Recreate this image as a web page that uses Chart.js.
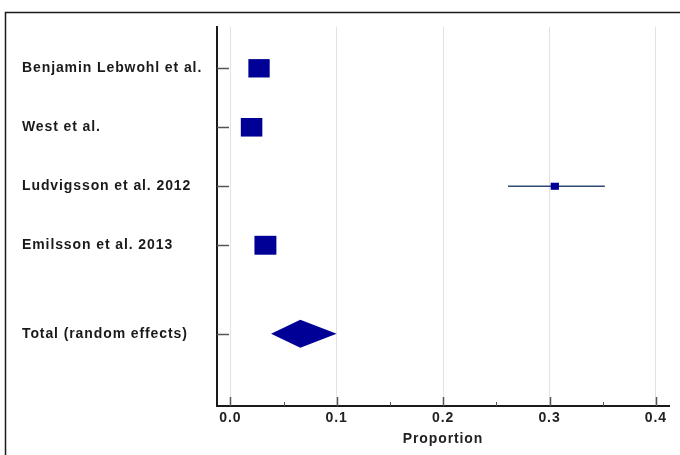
<!DOCTYPE html>
<html>
<head>
<meta charset="utf-8">
<script src="https://cdn.jsdelivr.net/npm/chart.js@4/dist/chart.umd.min.js"></script>
<style>
  html, body { margin: 0; padding: 0; background: #ffffff; }
  canvas { display: block; }
</style>
</head>
<body>
<canvas id="forest" width="680" height="455"></canvas>
<script>
// Individual studies: proportion with 95% CI and random-effects weight (%)
const studies   = ['Benjamin Lebwohl et al.', 'West et al.', 'Ludvigsson et al. 2012', 'Emilsson et al. 2013'];
const estimates = [0.027, 0.020, 0.305, 0.033];
const lowerCI   = [0.024, 0.017, 0.261, 0.029];
const upperCI   = [0.031, 0.023, 0.352, 0.037];
const weights   = [31.0, 31.6, 4.6, 32.8];
const studyRows = [0, 1, 2, 3];

// Pooled estimate
const pooledLabel    = 'Total (random effects)';
const pooledEstimate = 0.0658;
const pooledLower    = 0.0383;
const pooledUpper    = 0.0999;
const pooledRow      = 4.5;

// Axis ticks
const xTicks      = [0.0, 0.1, 0.2, 0.3, 0.4];
const xMinorTicks = [0.05, 0.15, 0.25, 0.35];

const rowLabels = {};
studyRows.forEach((r, i) => { rowLabels[r] = studies[i]; });
rowLabels[pooledRow] = pooledLabel;

const FONT = { family: '"Liberation Sans", Arial, sans-serif', size: 14, weight: 'bold' };
const BOX_COLOR = '#000096';
const CI_COLOR = '#2f4a72';

const forestPlugin = {
  id: 'forestPlot',
  beforeDraw(chart) {
    const ctx = chart.ctx;
    ctx.save();
    ctx.fillStyle = '#ffffff';
    ctx.fillRect(0, 0, chart.width, chart.height);
    ctx.strokeStyle = '#1a1a1a';
    ctx.lineWidth = 1.5;
    ctx.strokeRect(5.5, 12.5, chart.width + 20, chart.height + 20);
    ctx.restore();
    // slightly wider lettering for all axis text
    ctx.letterSpacing = '0.9px';
  },
  afterDatasetsDraw(chart) {
    const ctx = chart.ctx;
    const xs = chart.scales.x, ys = chart.scales.y;
    const area = chart.chartArea;
    ctx.save();

    // inward tick marks on the y axis
    ctx.strokeStyle = '#555';
    ctx.lineWidth = 1.5;
    [...studyRows, pooledRow].forEach(r => {
      const y = Math.round(ys.getPixelForValue(r)) + 0.5;
      ctx.beginPath();
      ctx.moveTo(area.left, y);
      ctx.lineTo(area.left + 12, y);
      ctx.stroke();
    });
    // inward tick marks on the x axis
    xTicks.forEach(v => {
      const x = Math.round(xs.getPixelForValue(v)) + 0.5;
      ctx.beginPath();
      ctx.moveTo(x, area.bottom);
      ctx.lineTo(x, area.bottom - 9);
      ctx.stroke();
    });
    ctx.lineWidth = 1;
    xMinorTicks.forEach(v => {
      const x = Math.round(xs.getPixelForValue(v)) + 0.5;
      ctx.beginPath();
      ctx.moveTo(x, area.bottom);
      ctx.lineTo(x, area.bottom - 4);
      ctx.stroke();
    });

    // confidence intervals and weighted boxes
    studyRows.forEach((r, i) => {
      const y = ys.getPixelForValue(r);
      ctx.strokeStyle = CI_COLOR;
      ctx.lineWidth = 1.5;
      ctx.beginPath();
      ctx.moveTo(xs.getPixelForValue(lowerCI[i]), y);
      ctx.lineTo(xs.getPixelForValue(upperCI[i]), y);
      ctx.stroke();

      const h = 3.3 * Math.sqrt(weights[i]);
      const w = h * 1.16;
      const cx = xs.getPixelForValue(estimates[i]);
      ctx.fillStyle = BOX_COLOR;
      ctx.fillRect(cx - w / 2, y - h / 2, w, h);
    });

    // pooled diamond
    const py = ys.getPixelForValue(pooledRow);
    const half = 14;
    ctx.fillStyle = BOX_COLOR;
    ctx.beginPath();
    ctx.moveTo(xs.getPixelForValue(pooledLower), py);
    ctx.lineTo(xs.getPixelForValue(pooledEstimate), py - half);
    ctx.lineTo(xs.getPixelForValue(pooledUpper), py);
    ctx.lineTo(xs.getPixelForValue(pooledEstimate), py + half);
    ctx.closePath();
    ctx.fill();

    ctx.restore();
  }
};

new Chart(document.getElementById('forest'), {
  type: 'scatter',
  data: { datasets: [] },
  plugins: [forestPlugin],
  options: {
    responsive: false,
    animation: false,
    events: [],
    layout: { padding: { left: 22, top: 27, right: 11, bottom: 0 } },
    plugins: { legend: { display: false }, tooltip: { enabled: false } },
    scales: {
      x: {
        type: 'linear',
        min: -0.0125,
        max: 0.4123,
        afterBuildTicks: s => { s.ticks = xTicks.map(v => ({ value: v })); },
        afterFit: s => { s.height = 49; },
        ticks: {
          font: FONT,
          color: '#222',
          padding: 4,
          maxRotation: 0,
          callback: v => Number(v).toFixed(1)
        },
        grid: { display: true, color: '#e2e2e2', lineWidth: 1, drawTicks: false },
        border: { display: true, color: '#1a1a1a', width: 2 },
        title: { display: true, text: 'Proportion', font: FONT, color: '#222', padding: { top: 0, bottom: 7 } }
      },
      y: {
        type: 'linear',
        reverse: true,
        min: -0.70,
        max: 5.725,
        afterBuildTicks: s => { s.ticks = [...studyRows, pooledRow].map(v => ({ value: v })); },
        afterFit: s => { s.width = 195; },
        ticks: {
          font: FONT,
          color: '#1a1a1a',
          crossAlign: 'far',
          callback: v => rowLabels[v] || ''
        },
        grid: { display: false, drawTicks: false },
        border: { display: true, color: '#1a1a1a', width: 2 }
      }
    }
  }
});
</script>
</body>
</html>
